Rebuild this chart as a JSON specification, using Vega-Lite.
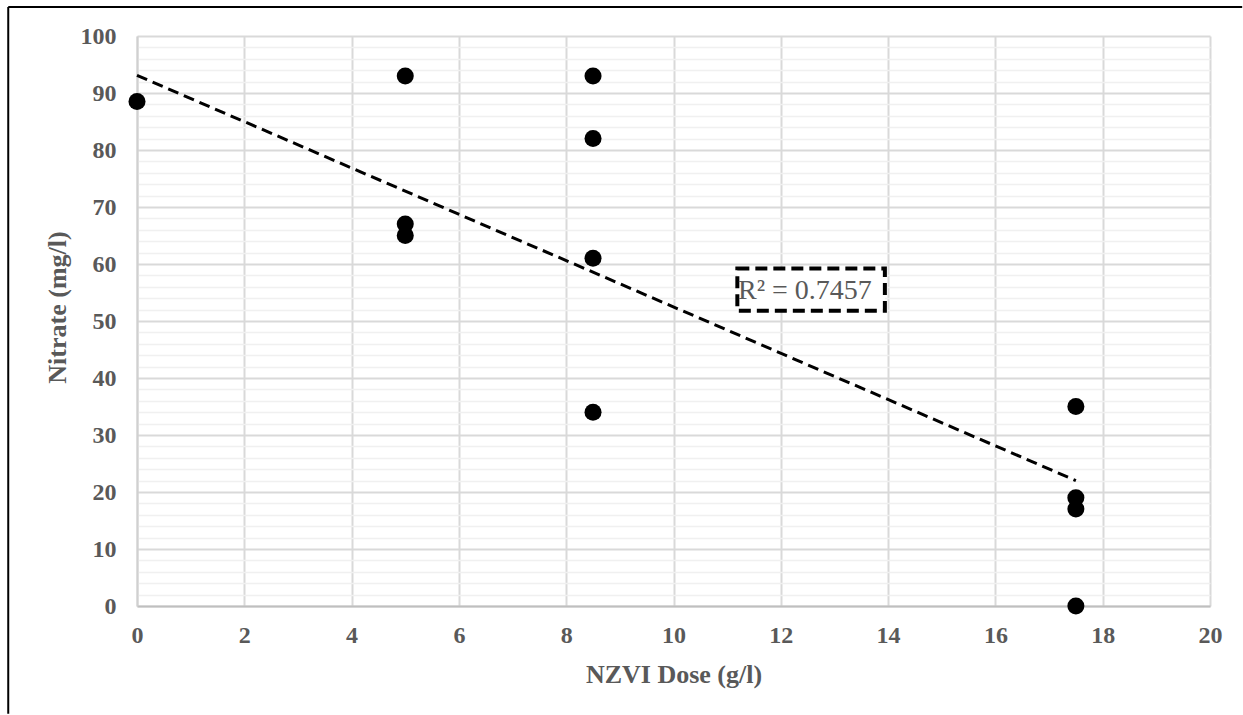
{
  "$schema": "https://vega.github.io/schema/vega-lite/v6.json",
  "width": 1073,
  "height": 570,
  "autosize": "none",
  "padding": {"left": 137, "top": 36, "right": 33, "bottom": 109},
  "background": "white",
  "view": {"stroke": null},
  "config": {
    "font": "Liberation Serif"
  },
  "datasets": {
    "points": [
      {"dose": 0, "nitrate": 88.5},
      {"dose": 5, "nitrate": 93},
      {"dose": 5, "nitrate": 67},
      {"dose": 5, "nitrate": 65},
      {"dose": 8.5, "nitrate": 93},
      {"dose": 8.5, "nitrate": 82},
      {"dose": 8.5, "nitrate": 61},
      {"dose": 8.5, "nitrate": 34},
      {"dose": 17.5, "nitrate": 35},
      {"dose": 17.5, "nitrate": 19},
      {"dose": 17.5, "nitrate": 17},
      {"dose": 17.5, "nitrate": 0}
    ],
    "trend": [
      {"dose": 0, "nitrate": 93.1},
      {"dose": 17.5, "nitrate": 22.0}
    ],
    "annotation": [
      {"label": "R² = 0.7457"}
    ]
  },
  "layer": [
    {
      "data": {"name": "points"},
      "mark": {"type": "circle", "size": 290, "color": "black", "opacity": 1},
      "encoding": {
        "x": {
          "field": "dose", "type": "quantitative",
          "scale": {"domain": [0, 20], "nice": false, "zero": false},
          "axis": {
            "title": "NZVI Dose (g/l)",
            "values": [0, 2, 4, 6, 8, 10, 12, 14, 16, 18, 20],
            "format": "d",
            "grid": true,
            "gridColor": "#d9d9d9",
            "gridWidth": 2,
            "domain": true,
            "domainColor": "#bfbfbf",
            "domainWidth": 2,
            "ticks": false,
            "tickSize": 0,
            "labelFlush": false,
            "labelOverlap": false,
            "labelFont": "Liberation Serif",
            "labelFontSize": 24,
            "labelFontWeight": "bold",
            "labelColor": "#595959",
            "labelPadding": 17,
            "titleFont": "Liberation Serif",
            "titleFontSize": 26,
            "titleFontWeight": "bold",
            "titleColor": "#595959",
            "titleY": 76,
            "titleBaseline": "alphabetic"
          }
        },
        "y": {
          "field": "nitrate", "type": "quantitative",
          "scale": {"domain": [0, 100], "nice": false, "zero": false},
          "axis": {
            "title": "Nitrate (mg/l)",
            "values": [0, 2, 4, 6, 8, 10, 12, 14, 16, 18, 20, 22, 24, 26, 28, 30, 32, 34, 36, 38, 40, 42, 44, 46, 48, 50, 52, 54, 56, 58, 60, 62, 64, 66, 68, 70, 72, 74, 76, 78, 80, 82, 84, 86, 88, 90, 92, 94, 96, 98, 100],
            "tickCount": 100,
            "format": "d",
            "labelExpr": "datum.value % 10 === 0 ? datum.label : ''",
            "grid": true,
            "gridColor": {"condition": {"test": "datum.value % 10 === 0", "value": "#d9d9d9"}, "value": "#f0f0f0"},
            "gridWidth": {"condition": {"test": "datum.value % 10 === 0", "value": 2}, "value": 1.5},
            "domain": true,
            "domainColor": "#d0d0d0",
            "domainWidth": 2,
            "ticks": false,
            "tickSize": 0,
            "labelFlush": false,
            "labelOverlap": false,
            "labelFont": "Liberation Serif",
            "labelFontSize": {"condition": {"test": "datum.value % 10 === 0", "value": 24}, "value": 1},
            "labelFontWeight": "bold",
            "labelColor": "#595959",
            "labelPadding": 21,
            "titleFont": "Liberation Serif",
            "titleFontSize": 26,
            "titleFontWeight": "bold",
            "titleColor": "#595959",
            "titleX": -72,
            "titleY": 271,
            "titleAngle": -90,
            "titleAlign": "center",
            "titleBaseline": "alphabetic"
          }
        }
      }
    },
    {
      "data": {"name": "annotation"},
      "mark": {"type": "rule", "color": "black", "strokeWidth": 2, "clip": false},
      "encoding": {
        "x": {"datum": -2.4, "type": "quantitative", "scale": {"domain": [0, 20]}},
        "y": {"datum": 105.1, "type": "quantitative", "scale": {"domain": [0, 100]}},
        "y2": {"datum": -18.9}
      }
    },
    {
      "data": {"name": "annotation"},
      "mark": {"type": "rule", "color": "black", "strokeWidth": 2, "clip": false},
      "encoding": {
        "x": {"datum": -2.4, "type": "quantitative", "scale": {"domain": [0, 20]}},
        "x2": {"datum": 20.6},
        "y": {"datum": 105.1, "type": "quantitative", "scale": {"domain": [0, 100]}}
      }
    },
    {
      "data": {"name": "trend"},
      "mark": {"type": "line", "color": "black", "strokeWidth": 3, "strokeDash": [11, 6]},
      "encoding": {
        "x": {"field": "dose", "type": "quantitative", "scale": {"domain": [0, 20]}},
        "y": {"field": "nitrate", "type": "quantitative", "scale": {"domain": [0, 100]}}
      }
    },
    {
      "data": {"name": "annotation"},
      "mark": {"type": "rect", "fill": "white", "stroke": "black", "strokeWidth": 4, "strokeDash": [12, 6]},
      "encoding": {
        "x": {"datum": 11.19, "type": "quantitative", "scale": {"domain": [0, 20]}},
        "x2": {"datum": 13.94},
        "y": {"datum": 59.22, "type": "quantitative", "scale": {"domain": [0, 100]}},
        "y2": {"datum": 51.78}
      }
    },
    {
      "data": {"name": "annotation"},
      "mark": {"type": "text", "font": "Liberation Serif", "fontSize": 28, "color": "#595959", "align": "center", "baseline": "alphabetic"},
      "encoding": {
        "text": {"field": "label"},
        "x": {"datum": 12.45, "type": "quantitative", "scale": {"domain": [0, 20]}},
        "y": {"datum": 53.8, "type": "quantitative", "scale": {"domain": [0, 100]}}
      }
    }
  ]
}
